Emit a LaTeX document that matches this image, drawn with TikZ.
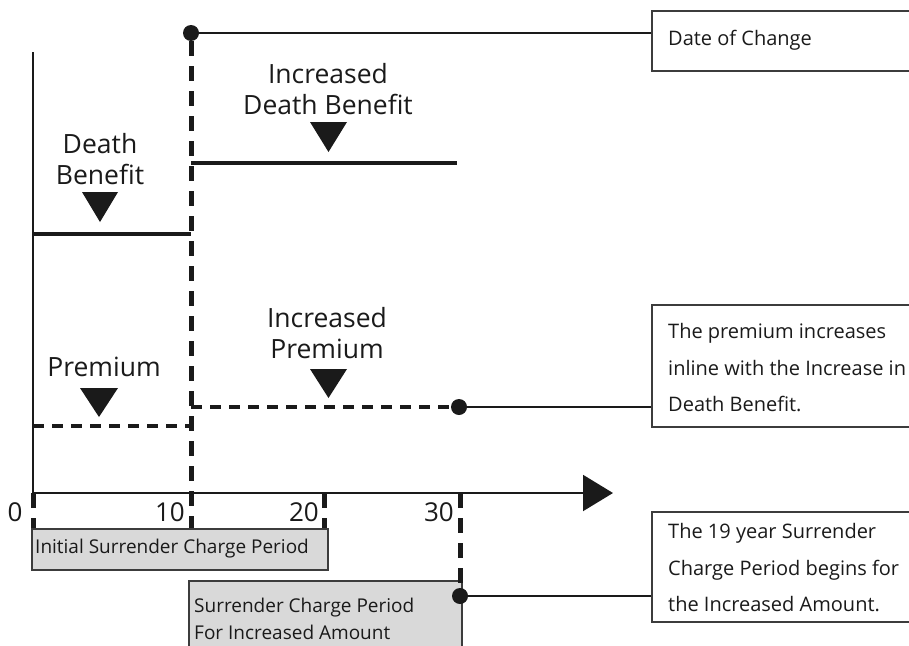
\documentclass[tikz,border=0pt]{standalone}
\usepackage{fontspec}
\setmainfont{Open Sans}
\usetikzlibrary{arrows.meta}
\definecolor{ink}{HTML}{1A1A1A}
\definecolor{boxfill}{HTML}{D9D9D9}
\begin{document}
\begin{tikzpicture}[x=1pt,y=-1pt,
  lbl/.style={font=\fontsize{26.5}{31}\selectfont, align=center, inner sep=0pt, text=ink},
  num/.style={font=\fontsize{26}{30}\selectfont, inner sep=0pt, text=ink},
  note/.style={font=\fontsize{20}{36.5}\selectfont, align=left, inner sep=0pt, anchor=west, text=ink},
  gtext/.style={font=\fontsize{19}{27}\selectfont, align=left, inner sep=0pt, anchor=west, text=ink},
  notebox/.style={draw=ink!85, line width=2pt, anchor=north west, inner sep=0pt},
  gbox/.style={draw=ink!85, fill=boxfill, line width=1.6pt, anchor=north west, inner sep=0pt},
  dot/.style={circle, fill=ink, inner sep=0pt, minimum size=16pt},
  solidlevel/.style={line width=4pt, draw=ink},
  dashlevel/.style={line width=4pt, draw=ink, dash pattern=on 11pt off 8pt},
  vdash/.style={line width=5pt, draw=ink, dash pattern=on 15pt off 10pt},
  leader/.style={line width=1.6pt, draw=ink},
  axisline/.style={line width=2pt, draw=ink},
  marker/.style={fill=ink}
]
\useasboundingbox (0,0) rectangle (909,645);
\clip (0,0) rectangle (909,645);

% axes
\coordinate (ytop) at (33,52);
\coordinate (origin) at (33,493);
\coordinate (xend) at (613,493);
\draw[axisline] (ytop) -- (origin);
\draw[axisline, -{Triangle[length=30pt,width=36pt]}] (origin) -- (xend);

% right-hand note boxes
\node[notebox, minimum width=270pt, minimum height=60pt] (dc) at (651,10) {};
\node[note] (dctext) at (668,40) {Date of Change};
\node[notebox, minimum width=270pt, minimum height=122pt] (pb) at (651,304) {};
\node[note] (pbtext) at (668,368) {The premium increases\\inline with the Increase in\\Death Benefit.};
\node[notebox, minimum width=270pt, minimum height=110pt] (sb) at (651,511) {};
\node[note] (sbtext) at (668,568) {The 19 year Surrender\\Charge Period begins for\\the Increased Amount.};

% gray period boxes
\node[gbox, minimum width=296pt, minimum height=41pt] (isc) at (31,528) {};
\node[gtext] (isctext) at (35,549) {Initial Surrender Charge Period};
\node[gbox, minimum width=273pt, minimum height=80pt] (scp) at (188,580) {};
\node[gtext] (scptext) at (194,619) {Surrender Charge Period\\For Increased Amount};

% dots
\node[dot] (c1) at (191,33) {};
\node[dot] (c2) at (459,407) {};
\node[dot] (c3) at (460,596) {};

% date of change
\coordinate (v1bot) at (191,528);
\draw[vdash] (c1) -- (v1bot);
\draw[leader] (c1) -- (c1 -| dc.west);

% ticks
\coordinate (t0a) at (33,493);  \coordinate (t0b) at (33,528);
\coordinate (t20a) at (324,493); \coordinate (t20b) at (324,528);
\coordinate (t30a) at (460,493);
\draw[vdash] (t0a) -- (t0b);
\draw[vdash] (t20a) -- (t20b);
\draw[vdash] (t30a) -- (c3);
\draw[leader] (c3) -- (c3 -| sb.west);

% axis numbers
\node[num] (n0) at (15,512) {0};
\node[num, anchor=east] (n10) at (185,512) {10};
\node[num, anchor=east] (n20) at (319,512) {20};
\node[num, anchor=east] (n30) at (454,512) {30};

% death benefit levels
\coordinate (db1a) at (33,234); \coordinate (db1b) at (191,234);
\coordinate (db2a) at (191,163); \coordinate (db2b) at (457,163);
\draw[solidlevel] (db1a) -- (db1b);
\draw[solidlevel] (db2a) -- (db2b);

% premium levels
\coordinate (p1a) at (33,426); \coordinate (p1b) at (193,426);
\coordinate (p2a) at (191,407);
\draw[dashlevel] (p1a) -- (p1b);
\draw[dashlevel] (p2a) -- (c2);
\draw[leader] (c2) -- (c2 -| pb.west);

% labels with markers
\node[lbl] (dbl) at (100,159) {Death\\Benefit};
\fill[marker] (82,192) -- (118,192) -- (100,222) -- cycle;
\node[lbl] (idbl) at (328,89) {Increased\\Death Benefit};
\fill[marker] (310,122) -- (347,122) -- (328.5,152) -- cycle;
\node[lbl] (pl) at (104,367) {Premium};
\fill[marker] (80,388) -- (118,388) -- (99,417) -- cycle;
\node[lbl] (ipl) at (327,333) {Increased\\Premium};
\fill[marker] (310,369) -- (347,369) -- (328.5,398) -- cycle;
\end{tikzpicture}
\end{document}
